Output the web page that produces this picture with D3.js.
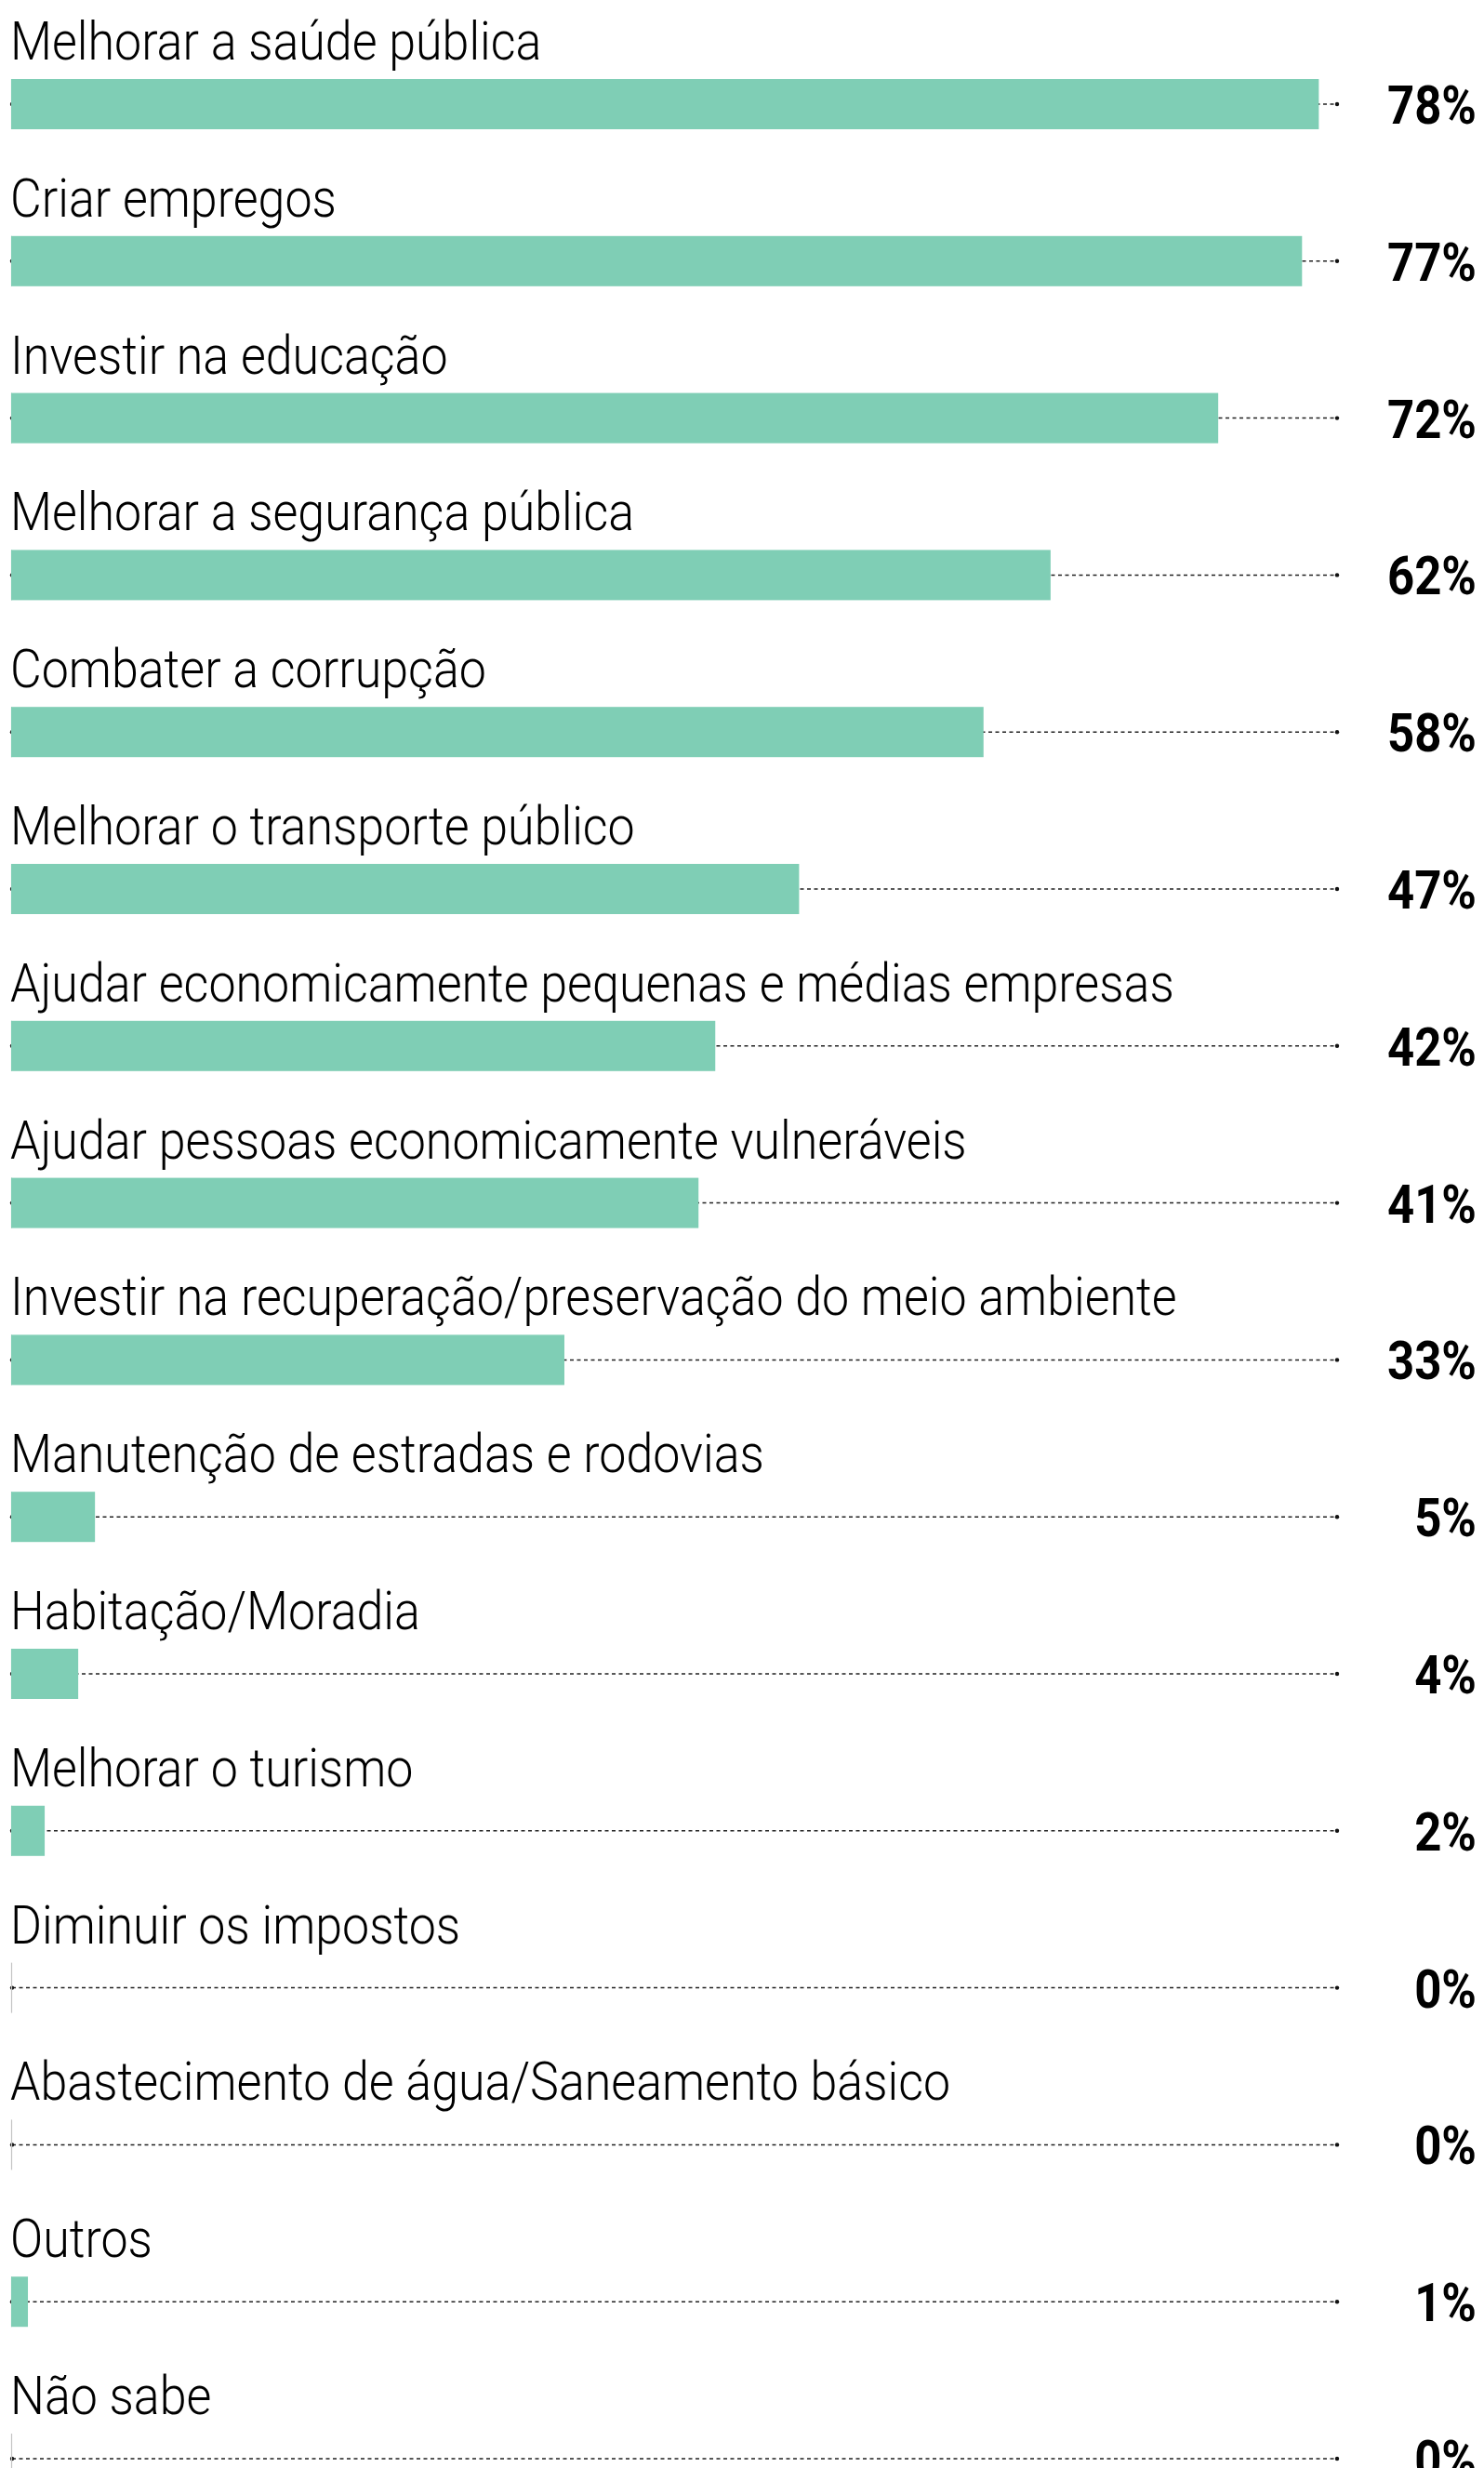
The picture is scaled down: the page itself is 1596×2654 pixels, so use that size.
<!DOCTYPE html>
<html lang="pt-BR">
<head>
<meta charset="utf-8">
<script src="https://cdn.jsdelivr.net/npm/d3@7"></script>
<style>
  html, body { margin: 0; padding: 0; background: #ffffff; }
  svg { display: block; }
  .cat { font-family: Roboto, "DejaVu Sans Condensed", sans-serif; font-weight: 300; font-size: 58px; fill: #000; }
  .val { font-family: Roboto, "DejaVu Sans Condensed", sans-serif; font-weight: 700; font-size: 58px; fill: #000; }
</style>
</head>
<body>
<svg id="chart"></svg>
<script>
// Prioridades apontadas na pesquisa (% de menções)
const categories = [
  "Melhorar a saúde pública",
  "Criar empregos",
  "Investir na educação",
  "Melhorar a segurança pública",
  "Combater a corrupção",
  "Melhorar o transporte público",
  "Ajudar economicamente pequenas e médias empresas",
  "Ajudar pessoas economicamente vulneráveis",
  "Investir na recuperação/preservação do meio ambiente",
  "Manutenção de estradas e rodovias",
  "Habitação/Moradia",
  "Melhorar o turismo",
  "Diminuir os impostos",
  "Abastecimento de água/Saneamento básico",
  "Outros",
  "Não sabe"
];
const values = [78, 77, 72, 62, 58, 47, 42, 41, 33, 5, 4, 2, 0, 0, 1, 0];
const valueLabels = ["78%", "77%", "72%", "62%", "58%", "47%", "42%", "41%", "33%", "5%", "4%", "2%", "0%", "0%", "1%", "0%"];

const rows = categories.map((c, i) => ({ cat: c, value: values[i], label: valueLabels[i] }));

const W = 1596, H = 2654;
const barH = 54;
const guideEnd = 1438;    // where the dotted leader lines stop
const valueRight = 1588;  // right edge of the percentage labels
const catCondense = 0.896; // horizontal squeeze for the category names
const valCondense = 0.878; // horizontal squeeze for the percentages

const svg = d3.select("#chart").attr("width", W).attr("height", H);

const x = d3.scaleLinear().domain([0, 100]).range([12, 1815]);
const y = d3.scalePoint().domain(categories).range([85, 2617]);

const g = svg.selectAll("g.row").data(rows).join("g")
  .attr("class", "row")
  .attr("transform", d => `translate(0,${y(d.cat)})`);

// category name above each bar
g.append("text")
  .attr("class", "cat")
  .attr("transform", `translate(${x(0) - 1},-21) scale(${catCondense},1)`)
  .text(d => d.cat);

// dotted leader line from the axis origin to the value column
g.append("line")
  .attr("x1", x(0) + 1)
  .attr("x2", guideEnd)
  .attr("y1", barH / 2)
  .attr("y2", barH / 2)
  .attr("stroke", "#222")
  .attr("stroke-width", 1.5)
  .attr("stroke-dasharray", "4,3.5");

g.append("circle")
  .attr("cx", x(0) + 1)
  .attr("cy", barH / 2)
  .attr("r", 2.2)
  .attr("fill", "#111");

g.append("circle")
  .attr("cx", guideEnd)
  .attr("cy", barH / 2)
  .attr("r", 2.2)
  .attr("fill", "#111");

// zero baseline tick
g.append("line")
  .attr("x1", x(0) + 0.5)
  .attr("x2", x(0) + 0.5)
  .attr("y1", 0)
  .attr("y2", barH)
  .attr("stroke", "#c4c4c4")
  .attr("stroke-width", 1.2);

// bars
g.append("rect")
  .attr("x", x(0))
  .attr("y", 0)
  .attr("width", d => x(d.value) - x(0))
  .attr("height", barH)
  .attr("fill", "#7fceb5");

// percentage labels
g.append("text")
  .attr("class", "val")
  .attr("transform", `translate(${valueRight},${barH - 6}) scale(${valCondense},1)`)
  .attr("text-anchor", "end")
  .text(d => d.label);
</script>
</body>
</html>
